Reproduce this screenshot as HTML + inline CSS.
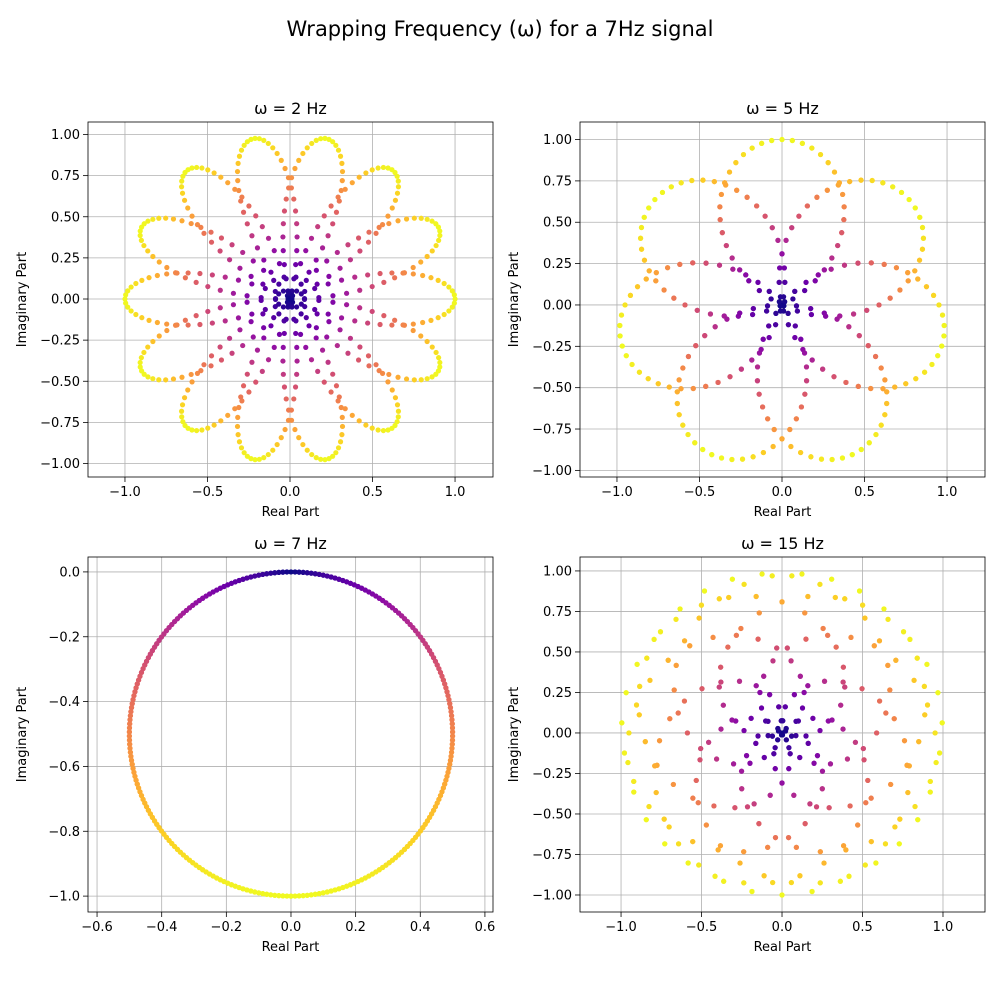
<!DOCTYPE html>
<html><head><meta charset="utf-8"><style>
html,body{margin:0;padding:0;background:#fff;}
svg{display:block;font-family:"DejaVu Sans","Liberation Sans",sans-serif;}
</style></head><body>
<svg id="fig" width="1000" height="1000" viewBox="0 0 1000 1000">
<text x="500" y="36" text-anchor="middle" font-size="21" fill="#000">Wrapping Frequency (ω) for a 7Hz signal</text>
</svg>
<script>
// --- data ---
const windingFreqs = [2, 5, 7, 15];
const signalFreq = [7];
const sampleCount = [500];
const xTicksA = [-1.0, -0.5, 0.0, 0.5, 1.0];
const yTicksA = [1.00, 0.75, 0.50, 0.25, 0.00, -0.25, -0.50, -0.75, -1.00];
const xTicksC = [-0.6, -0.4, -0.2, 0.0, 0.2, 0.4, 0.6];
const yTicksC = [0.0, -0.2, -0.4, -0.6, -0.8, -1.0];
const panelTitles = ["ω = 2 Hz", "ω = 5 Hz", "ω = 7 Hz", "ω = 15 Hz"];

const NS = "http://www.w3.org/2000/svg";
const svg = document.getElementById('fig');
function mk(tag, attrs, parent) {
  const e = document.createElementNS(NS, tag);
  for (const k in attrs) e.setAttribute(k, attrs[k]);
  (parent || svg).appendChild(e);
  return e;
}
const plasma = ["#0d0887","#41049d","#6a00a8","#8f0da4","#b12a90","#cc4778","#e16462","#f2844b","#fca636","#fcce25","#f0f921"];
function hex(h){return [parseInt(h.substr(1,2),16),parseInt(h.substr(3,2),16),parseInt(h.substr(5,2),16)];}
function cmap(v){
  v=Math.max(0,Math.min(1,v));
  const p=v*10, i=Math.min(9,Math.floor(p)), f=p-i;
  const a=hex(plasma[i]), b=hex(plasma[i+1]);
  return "rgb("+a.map((x,k)=>Math.round(x+(b[k]-x)*f)).join(",")+")";
}
function fmt(v, d){ return (v<0?"\u2212":"")+Math.abs(v).toFixed(d); }

const panels = [
  {x0:88,x1:493,y0:122,y1:477,xmin:-1.224,xmax:1.230,ymin:-1.082,ymax:1.076,xt:xTicksA,yt:yTicksA,xd:1,yd:2},
  {x0:580,x1:985,y0:122,y1:477,xmin:-1.224,xmax:1.230,ymin:-1.040,ymax:1.106,xt:xTicksA,yt:yTicksA,xd:1,yd:2},
  {x0:88,x1:493,y0:557,y1:912,xmin:-0.628,xmax:0.625,ymin:-1.049,ymax:0.046,xt:xTicksC,yt:yTicksC,xd:1,yd:1},
  {x0:580,x1:985,y0:557,y1:912,xmin:-1.255,xmax:1.261,ymin:-1.105,ymax:1.086,xt:xTicksA,yt:yTicksA,xd:1,yd:2}
];

panels.forEach((P, pi) => {
  const g = mk('g', {});
  
  
  const sx = v => P.x0 + (v - P.xmin) / (P.xmax - P.xmin) * (P.x1 - P.x0);
  const sy = v => P.y1 - (v - P.ymin) / (P.ymax - P.ymin) * (P.y1 - P.y0);
  P.xt.forEach(t => {
    const x = sx(t);
    const gl = mk('line', {x1:x,x2:x,y1:P.y0,y2:P.y1,stroke:"#b0b0b0","stroke-width":0.8}, g);
    
    
    mk('line', {x1:x,x2:x,y1:P.y1,y2:P.y1+5,stroke:"#000","stroke-width":0.8}, g);
    const tl = mk('text', {x:x,y:P.y1+19,"text-anchor":"middle","font-size":13}, g);
    tl.textContent = fmt(t, P.xd);
    
    
  });
  P.yt.forEach(t => {
    const y = sy(t);
    const gl = mk('line', {x1:P.x0,x2:P.x1,y1:y,y2:y,stroke:"#b0b0b0","stroke-width":0.8}, g);
    
    
    mk('line', {x1:P.x0-5,x2:P.x0,y1:y,y2:y,stroke:"#000","stroke-width":0.8}, g);
    const tl = mk('text', {x:P.x0-8,y:y+4.5,"text-anchor":"end","font-size":13}, g);
    tl.textContent = fmt(t, P.yd);
    
    
  });
  const N = sampleCount[0], f = signalFreq[0], w = windingFreqs[pi];
  const pts = [];
  for (let k = 0; k < N; k++) {
    const t = k / N;
    const s = Math.sin(2*Math.PI*f*t);
    const re = s*Math.cos(-2*Math.PI*w*t), im = s*Math.sin(-2*Math.PI*w*t);
    pts.push([re, im, Math.hypot(re, im)]);
  }
  const cmax = Math.max(...pts.map(p=>p[2]));
  pts.forEach(p => {
    const c = mk('circle', {cx:sx(p[0]),cy:sy(p[1]),r:2.6,fill:cmap(p[2]/cmax)}, g);
    
    
  });
  const fr = mk('rect', {x:P.x0,y:P.y0,width:P.x1-P.x0,height:P.y1-P.y0,fill:"none",stroke:"#000","stroke-width":0.8}, g);
  
  
  const ti = mk('text', {x:(P.x0+P.x1)/2,y:P.y0-8,"text-anchor":"middle","font-size":16}, g);
  ti.textContent = panelTitles[pi];
  
  
  const xl = mk('text', {x:(P.x0+P.x1)/2,y:P.y1+39,"text-anchor":"middle","font-size":13}, g);
  xl.textContent = "Real Part";
  
  
  const yx = P.x0 - 62, yy = (P.y0+P.y1)/2;
  const yl = mk('text', {x:yx,y:yy,"text-anchor":"middle","font-size":13,transform:"rotate(-90 "+yx+" "+yy+")"}, g);
  yl.textContent = "Imaginary Part";
  
  
});
</script>
</body></html>
